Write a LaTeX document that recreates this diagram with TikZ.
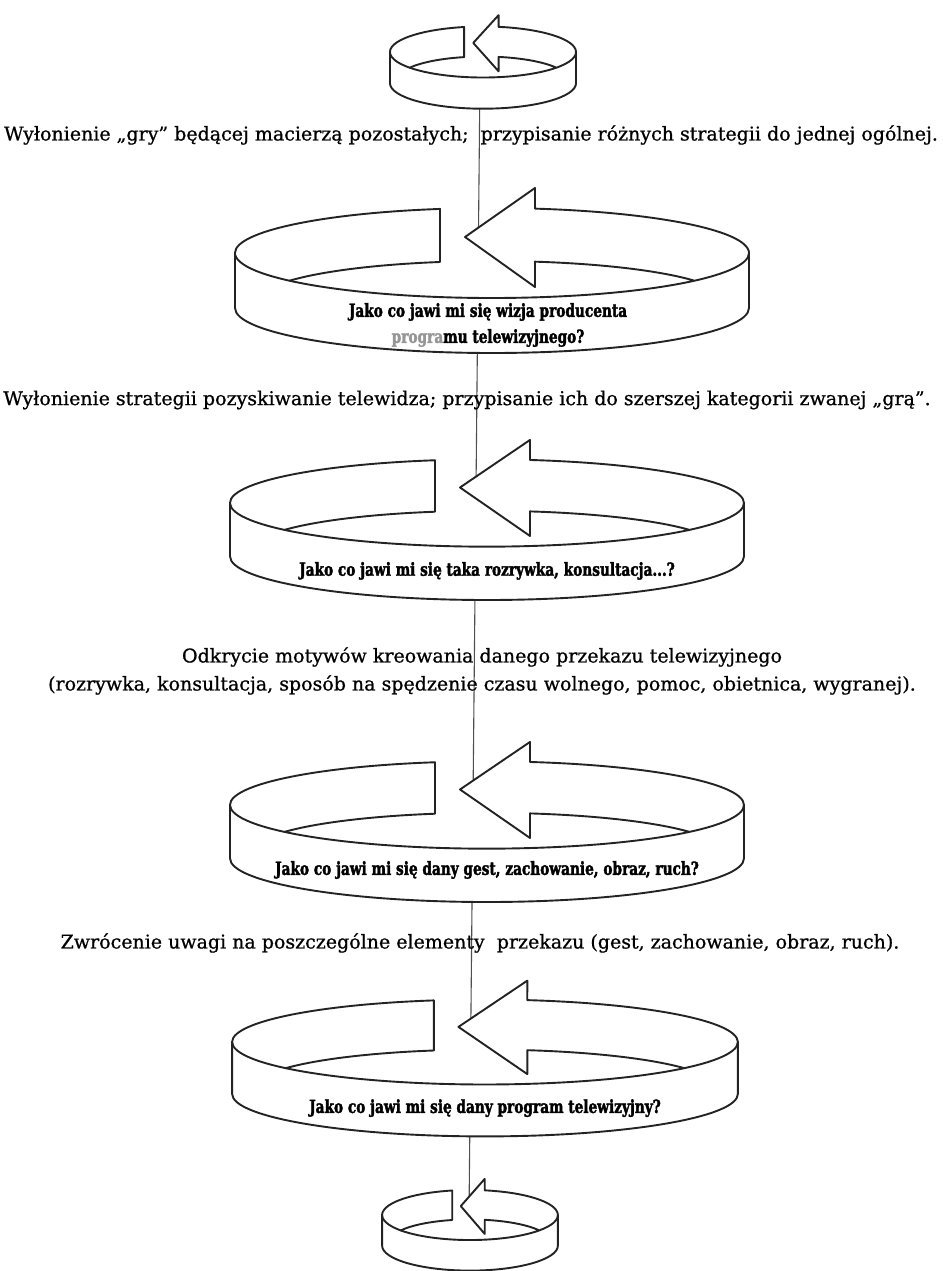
\documentclass[tikz,border=0pt]{standalone}
\usepackage{fontspec}
\setmainfont{DejaVu Serif}[FakeBold=0.8]
\newfontfamily\qfont{DejaVu Serif}[FakeStretch=0.76, BoldFeatures={FakeBold=2}]
\usetikzlibrary{positioning,calc}
\definecolor{inkcolor}{RGB}{35,35,35}
\definecolor{fadecolor}{RGB}{150,150,150}

\tikzset{
  rim/.style={draw=inkcolor, line width=1.9pt, line join=round, line cap=round},
  axisline/.style={draw=inkcolor!80, line width=1.1pt},
  caption/.style={font=\fontsize{19}{28}\selectfont, align=center, inner sep=0pt},
  question/.style={font=\qfont\bfseries\fontsize{18}{26}\selectfont, align=center, inner sep=0pt}
}

% ring with its arrow, drawn round (0,0) in a 257 x 45 frame
\newcommand{\ringshape}{%
  \fill[white] (-52,44.07) arc[start angle=101.67, end angle=440.37, x radius=257, y radius=45]
    -- (43,65) -- (-27,16) -- (-52,16) -- cycle;
  \fill[white] (-257,0) -- (-257,-55)
    arc[start angle=180, end angle=360, x radius=257, y radius=45] -- (257,0) -- cycle;
  \draw[rim] (-52,44.07) arc[start angle=101.67, end angle=440.37, x radius=257, y radius=45]
    -- (43,65) -- (-27,16) -- (43,-34) -- (43,-8.67)
    arc[start angle=79.37, end angle=29.7, x radius=233, y radius=39];
  \draw[rim] (-52,44.07) -- (-52,-8.99)
    arc[start angle=102.90, end angle=150.3, x radius=233, y radius=39];
  \draw[rim] (-257,0) -- (-257,-55)
    arc[start angle=180, end angle=360, x radius=257, y radius=45] -- (257,0);
}

\begin{document}
\begin{tikzpicture}[x=1pt, y=1pt]
\useasboundingbox (0,0) rectangle (942,-1271);

% Axis behind the rings
\coordinate (axtop) at (480,-75);
\coordinate (axbot) at (469,-1215);
\draw[axisline] (axtop) -- (axbot);

% ================= TOP SMALL RING =================
\begin{scope}[shift={(483,-52)}, xscale=0.362, yscale=0.567]
\ringshape
\end{scope}

\node[caption] (c1) at (471,-135)
{Wyłonienie „gry” będącej macierzą pozostałych;\ \ przypisanie różnych strategii do jednej ogólnej.};

% ================= RING 1 =================
\begin{scope}[shift={(492,-253)}]
\ringshape
\node[question] (q1) at (-4,-72)
{Jako co jawi mi się wizja producenta\\
{\color{fadecolor}progra}mu telewizyjnego?};
\end{scope}

\node[caption] (c2) at (467,-400)
{Wyłonienie strategii pozyskiwanie telewidza; przypisanie ich do szerszej kategorii zwanej „grą”.};

% ================= RING 2 =================
\begin{scope}[shift={(487,-503)}, yscale=0.97]
\ringshape
\node[question] (q2) at (0,-70)
{Jako co jawi mi się taka rozrywka, konsultacja...?};
\end{scope}

\node[caption] (c3) at (482,-671)
{Odkrycie motywów kreowania danego przekazu telewizyjnego\\
(rozrywka, konsultacja, sposób na spędzenie czasu wolnego, pomoc, obietnica, wygranej).};

% ================= RING 3 =================
\begin{scope}[shift={(487,-805)}, yscale=0.97]
\ringshape
\node[question] (q3) at (0,-67)
{Jako co jawi mi się dany gest, zachowanie, obraz, ruch?};
\end{scope}

\node[caption] (c4) at (480,-943)
{Zwrócenie uwagi na poszczególne elementy\ \ przekazu (gest, zachowanie, obraz, ruch).};

% ================= RING 4 =================
\begin{scope}[shift={(485,-1042)}, xscale=0.984, yscale=0.944]
\ringshape
\node[question] (q4) at (0,-70)
{Jako co jawi mi się dany program telewizyjny?};
\end{scope}

% ================= BOTTOM SMALL RING =================
\begin{scope}[shift={(470,-1215)}, xscale=0.342, yscale=0.556]
\ringshape
\end{scope}

\end{tikzpicture}
\end{document}
